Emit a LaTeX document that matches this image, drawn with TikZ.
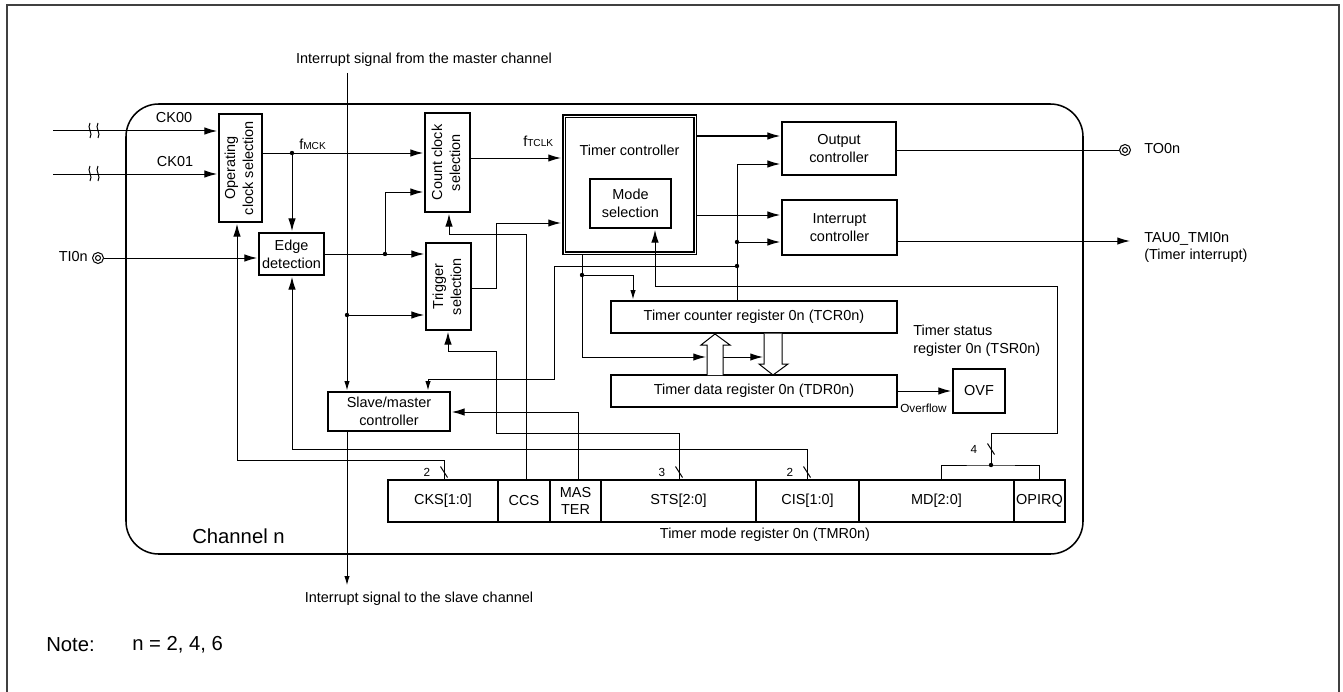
\documentclass[tikz,border=0pt]{standalone}
\usepackage{fontspec}
\setmainfont{Liberation Sans}
\usepackage{tikz}
\usetikzlibrary{arrows.meta}

\def\pxu{0.75pt}
\newcommand{\mainfs}{\fontsize{10.85}{13.4}\selectfont}
\newcommand{\smallfs}{\fontsize{8.8}{10}\selectfont}
\newcommand{\subfs}{\fontsize{7.6}{9}\selectfont}
\newcommand{\bigfs}{\fontsize{15.2}{18}\selectfont}
\newcommand{\vtext}[2]{\rotatebox{90}{\begin{tabular}{@{}c@{}}#1\\#2\end{tabular}}}

\tikzset{
    every node/.style={inner sep=0pt, font=\mainfs, align=center},
    blk/.style 2 args={draw, line width=1.2pt, minimum width=#1*\pxu, minimum height=#2*\pxu},
    field/.style={draw, line width=0.8pt, minimum width=#1*\pxu, minimum height=42*\pxu},
    sig/.style={line width=0.75pt},
    arr/.style={sig, -{Latex[length=9.5pt,width=5.6pt]}, shorten >=0.8pt},
    sarr/.style={sig, -{Latex[length=7pt,width=4pt]}, shorten >=0.5pt},
    dot/.style={circle, fill, minimum size=4.4*\pxu},
    term/.style={circle, draw, line width=0.75pt, fill=white, minimum size=#1*\pxu},
    hollow/.style={draw, line width=0.75pt, fill=white}
}

\begin{document}
\begin{tikzpicture}[x=0.75pt, y=-0.75pt]
    \useasboundingbox (0,0) rectangle (1343,692);

    % Outer frame and channel outline
    \draw[line width=1.1pt, black!75] (7,692) -- (7,5) -- (1339,5) -- (1339,692);
    \draw[line width=1.15pt, rounded corners=24.5pt] (126,104) rectangle (1083,554);
    \node[font=\bigfs] (channel) at (238.5,536) {Channel n};

    % Selection blocks
    \node[blk={43}{108}] (opsel) at (240.5,168) {\vtext{Operating}{clock selection}};
    \node[blk={65}{42}] (edge) at (291.5,254) {Edge\\detection};
    \node[blk={45}{99}] (count) at (447.5,162.5) {\vtext{Count clock}{selection}};
    \node[blk={45}{87}] (trigger) at (448.5,286.5) {\vtext{Trigger}{selection}};
    \node[blk={122}{39}] (slave) at (389,411.5) {Slave/master\\controller};

    % Timer controller
    \node[draw, line width=1.15pt, double, double distance=0.7pt, minimum width=131*\pxu, minimum height=137*\pxu, outer sep=1.5pt] (timer) at (629.5,184.5) {};
    \node (timerlabel) at (629.5,150) {Timer controller};
    \node[blk={81}{49}] (mode) at (630.5,203.5) {Mode\\selection};

    % Output side
    \node[blk={114}{53}] (output) at (839,148.5) {Output\\controller};
    \node[blk={115}{55}] (interrupt) at (839.5,227.5) {Interrupt\\controller};
    \node[term=11] (toterm) at (1125,150) {};
    \node[term=5] (toinner) at (1125,150) {};
    \node[anchor=west] (tolabel) at (1144,149) {TO0n};
    \coordinate (tmiend) at (1131,241);
    \node[anchor=west, align=left] (tmilabel) at (1144,247.5) {TAU0\_TMI0n\\(Timer interrupt)};

    % Registers
    \node[blk={286}{32}] (tcr) at (754,317) {Timer counter register 0n (TCR0n)};
    \node[blk={286}{32}] (tdr) at (754,391) {Timer data register 0n (TDR0n)};
    \node[blk={52}{44}] (ovf) at (979,391) {OVF};
    \node[anchor=west, align=left] (tsrlabel) at (913,340.5) {Timer status\\register 0n (TSR0n)};
    \node[font=\smallfs] (overflow) at (923.5,408) {Overflow};

    % Mode register fields
    \node[field=110] (cks) at (443,501) {CKS[1:0]};
    \node[field=52] (ccs) at (524,501) {CCS};
    \node[field=51] (master) at (575.5,501) {MAS\\TER};
    \node[field=155] (sts) at (678.5,501) {STS[2:0]};
    \node[field=103] (cis) at (807.5,501) {CIS[1:0]};
    \node[field=155] (md) at (936.5,501) {MD[2:0]};
    \node[field=51] (opirq) at (1039.5,501) {OPIRQ};
    \draw[line width=1.2pt] (cks.north west) rectangle (opirq.south east);
    \node (tmrlabel) at (765,535) {Timer mode register 0n (TMR0n)};

    % Clock inputs
    \coordinate (ck0start) at (53,131);
    \coordinate (ck1start) at (53,174);
    \node (cklabel) at (174,118) {CK00};
    \node (ck1label) at (175,162) {CK01};
    \draw[arr] (ck0start) -- (opsel.west |- ck0start);
    \draw[arr] (ck1start) -- (opsel.west |- ck1start);
    \foreach \yy in {131,174} {
        \foreach \xx in {90,98} {
            \draw[sig] (\xx,\yy-8) .. controls (\xx-3.5,\yy-3) and (\xx+3.5,\yy+2) .. (\xx,\yy+7);
        }
    }

    % Terminal input
    \node[term=11] (titerm) at (98,258) {};
    \node[term=5] (tiinner) at (98,258) {};
    \node[anchor=east] (tilabel) at (88,257) {TI0n};
    \draw[arr] (titerm) -- (edge.west |- titerm);

    % Clock path
    \node[dot] (fmck) at (292,153) {};
    \node[anchor=west] (fmcklabel) at (299,144) {f{\subfs MCK}};
    \draw[arr] (opsel.east |- fmck) -- (count.west |- fmck);
    \draw[arr] (fmck.center) -- (edge.north -| fmck);
    \node[dot] (edgeout) at (385,254) {};
    \draw[arr] (edge.east |- edgeout) -- (trigger.west |- edgeout);
    \draw[arr] (edgeout.center) |- (count.west |- 385,192);

    % Master interrupt
    \coordinate (masterin) at (347,73);
    \node (masterlabel) at (424,60) {Interrupt signal from the master channel};
    \node[dot] (masterdot) at (347,315) {};
    \draw[sarr] (masterin) -- (slave.north -| masterin);
    \draw[arr] (masterdot.center) -- (trigger.west |- masterdot);
    \coordinate (slaveout) at (347,586);
    \node (slavelabel) at (419,599) {Interrupt signal to the slave channel};
    \draw[sarr] (slave.south -| slaveout) -- (slaveout);

    % Timer controller inputs
    \node[anchor=west] (ftclklabel) at (523,141) {f{\subfs TCLK}};
    \draw[arr] (count.east |- 0,158) -- (timer.west |- 0,158);
    \draw[arr] (trigger.east |- 0,288) -| (496,223) -- (timer.west |- 0,223);

    % Timer controller outputs
    \draw[arr] (timer.east |- 0,136) -- (output.west |- 0,136);
    \draw[arr] (timer.east |- 0,215) -- (interrupt.west |- 0,215);
    \draw[sig] (output.east |- toterm) -- (toterm);
    \draw[arr] (interrupt.east |- tmiend) -- (tmiend);

    % Counter feedback
    \node[dot] (fbdot) at (737,242) {};
    \node[dot] (fbslave) at (737,266) {};
    \draw[arr] (tcr.north -| fbdot) |- (output.west |- 0,164);
    \draw[arr] (fbdot.center) -- (interrupt.west |- fbdot);
    \draw[sarr] (fbslave.center) -| (554,379) -| (slave.north -| 428,0);

    % Timer to registers
    \node[dot] (timerdot) at (582,275) {};
    \draw[sig] (timer.south -| timerdot) -- (timerdot.center);
    \draw[sarr] (timerdot.center) -| (tcr.north -| 633,0);
    \draw[arr] (timerdot.center) |- (707,357);
    \draw[arr] (723,357) -- (764,357);

    % Hollow transfer arrows
    \draw[hollow] (707,375) -- (707,345) -- (701,345) -- (715,334) -- (730,345) -- (723,345) -- (723,375);
    \draw[hollow] (764,333.5) -- (764,364) -- (759,364) -- (773,375) -- (788,364) -- (782,364) -- (782,333.5);
    \draw[arr] (tdr.east |- ovf) -- (ovf);

    % Control lines from mode register
    \node[dot] (mddot) at (991,465) {};
    \draw[sig] (md.north -| 941,0) |- (mddot.center) -| (opirq.north -| 1039,0);
    \draw[arr] (mddot.center) |- (1057,433) |- (655,286) -- (mode.south -| 655,0);
    \draw[arr] (cis.north -| 807,0) |- (292,449) -- (edge.south -| 292,0);
    \draw[arr] (sts.north -| 679,0) |- (496,433) |- (448,351) -- (trigger.south -| 448,0);
    \draw[arr] (cks.north -| 444,0) |- (237,460) -- (opsel.south -| 237,0);
    \draw[arr] (ccs.north -| 526,0) |- (449,234) -- (count.south -| 449,0);
    \draw[arr] (master.north -| 578,0) |- (slave.east |- 0,412);

    % Bus width marks
    \foreach \xx/\yy/\num in {444/472/2, 679/472/3, 807/472/2, 991/449/4} {
        \draw[sig] (\xx-3.5,\yy-5.5) -- (\xx+3.5,\yy+5.5);
        \node[font=\smallfs] at (\xx-17,\yy) {\num};
    }

    % Note
    \node[font=\bigfs, anchor=west] (notelabel) at (46,645) {Note:};
    \node[font=\bigfs, anchor=west] (notetext) at (132,645) {n = 2, 4, 6};
\end{tikzpicture}
\end{document}
